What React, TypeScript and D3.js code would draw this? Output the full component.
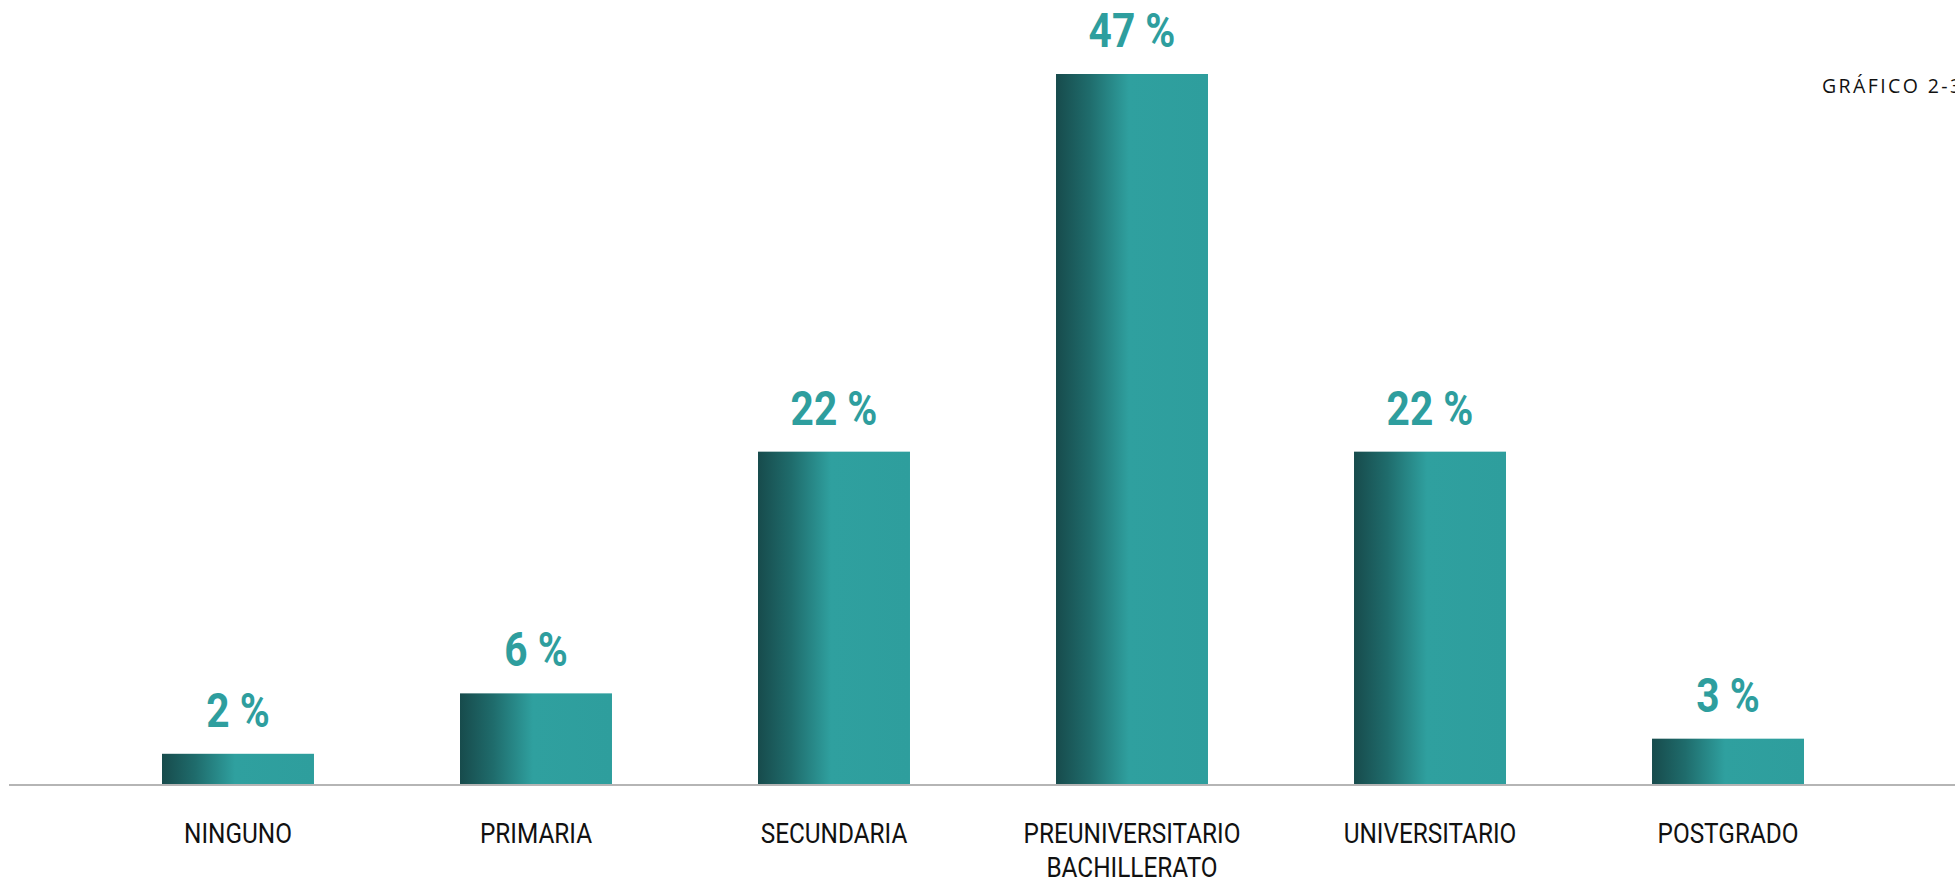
import React from "react";
import * as d3 from "d3";

const categories: string[][] = [
  ["NINGUNO"],
  ["PRIMARIA"],
  ["SECUNDARIA"],
  ["PREUNIVERSITARIO", "BACHILLERATO"],
  ["UNIVERSITARIO"],
  ["POSTGRADO"],
];
const values: number[] = [2, 6, 22, 47, 22, 3];
const valueLabels: string[] = ["2 %", "6 %", "22 %", "47 %", "22 %", "3 %"];
const chartTag = "GRÁFICO 2-3";

const W = 1955;
const H = 879;
const baseY = 784;
const topY = 74;

export default function App() {
  const keys = categories.map((c) => c.join(" "));
  const x = d3
    .scaleBand<string>()
    .domain(keys)
    .range([13, 1953])
    .paddingInner(0.49)
    .paddingOuter(0.5);
  const y = d3.scaleLinear().domain([0, 47]).range([baseY, topY]);
  const font = "Roboto, 'Noto Sans', sans-serif";

  return (
    <svg
      width={W}
      height={H}
      style={{ position: "absolute", left: 0, top: 0, background: "#fff" }}
    >
      <defs>
        <linearGradient id="barGrad" x1="0" x2="1" y1="0" y2="0">
          <stop offset="0%" stopColor="#174b4c" />
          <stop offset="22%" stopColor="#1f6c6c" />
          <stop offset="48%" stopColor="#2fa09f" />
          <stop offset="100%" stopColor="#2e9e9d" />
        </linearGradient>
      </defs>
      <line x1={9} x2={W} y1={baseY + 1} y2={baseY + 1} stroke="#b5b5b5" strokeWidth={2} />
      {keys.map((k, i) => {
        const cx = (x(k) as number) + x.bandwidth() / 2;
        return (
          <g key={k}>
            <rect
              x={x(k)}
              y={y(values[i])}
              width={x.bandwidth()}
              height={baseY - y(values[i])}
              fill="url(#barGrad)"
            />
            <text
              transform={`translate(${cx},${y(values[i]) - 27}) scale(0.83,1)`}
              textAnchor="middle"
              fontFamily={font}
              fontWeight="bold"
              fontSize={49}
              fill="#2e9e9e"
            >
              {valueLabels[i]}
            </text>
            {categories[i].map((line, j) => (
              <text
                key={j}
                transform={`translate(${cx},${843 + j * 34}) scale(0.87,1)`}
                textAnchor="middle"
                fontFamily={font}
                fontSize={28}
                fill="#111"
              >
                {line}
              </text>
            ))}
          </g>
        );
      })}
      <text
        x={1822}
        y={93}
        fontFamily="'Open Sans', 'Noto Sans', sans-serif"
        fontSize={19.5}
        letterSpacing={2.4}
        fill="#111"
      >
        {chartTag}
      </text>
    </svg>
  );
}
